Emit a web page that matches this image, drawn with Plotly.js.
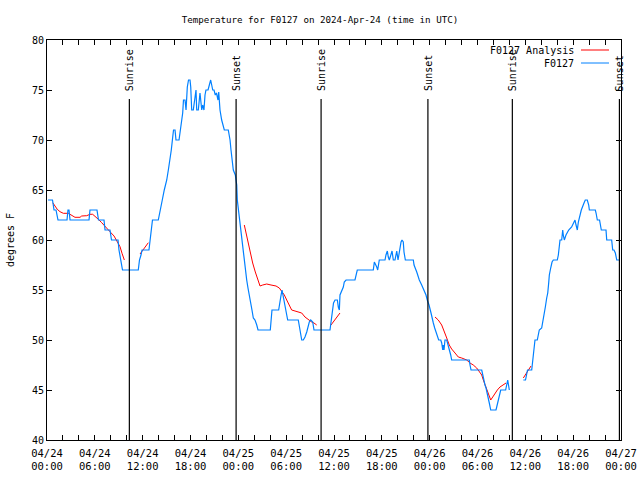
<!DOCTYPE html>
<html>
<head>
<meta charset="utf-8">
<script src="https://cdn.plot.ly/plotly-3.0.1.min.js"></script>
<style>html,body{margin:0;padding:0;background:#fff;}#chart{width:640px;height:480px;}</style>
</head>
<body>
<div id="chart"></div>
<script>
// hours since 2024-04-24 00:00 UTC
var blueHours = [0.13,0.69,0.88,1.13,1.38,2.51,2.63,2.76,2.89,5.27,5.39,6.27,6.46,7.15,7.28,7.90,8.09,8.91,9.03,9.22,9.47,11.45,
11.60,11.79,11.92,12.79,12.92,13.08,13.23,13.96,14.17,14.46,14.71,15.02,15.22,15.43,15.59,15.77,15.87,16.06,16.18,16.56,16.75,16.90,17.02,17.12,17.31,17.44,17.60,17.75,17.94,18.03,18.15,18.35,18.56,18.69,18.78,18.98,19.19,19.28,19.41,19.53,19.69,19.82,19.94,20.20,20.36,20.53,20.66,20.79,20.95,21.11,21.26,21.45,21.54,21.61,21.70,21.91,22.04,22.24,22.74,22.87,22.96,23.08,23.17,23.37,23.62,23.80,23.87,
24.02,24.12,24.27,24.46,24.62,24.84,25.05,25.21,25.38,25.55,25.71,25.88,26.09,26.31,26.47,28.01,28.10,28.22,29.06,29.16,29.32,29.48,29.64,29.85,29.98,30.19,31.52,31.65,31.82,31.95,32.15,32.36,32.58,32.78,32.90,33.08,33.33,33.49,35.50,35.66,35.79,35.94,36.13,36.42,36.54,36.67,36.75,36.97,37.17,37.29,37.51,38.63,38.76,38.92,40.93,41.06,41.36,41.48,41.68,42.40,42.52,42.69,42.81,42.94,43.28,43.44,43.65,43.87,44.03,44.15,44.28,44.41,44.53,44.69,44.78,44.95,45.95,46.04,46.38,46.70,47.00,47.29,47.54,47.70,47.92,48.17,48.29,48.46,48.63,48.80,48.96,49.13,49.39,49.51,49.64,49.71,49.80,49.92,50.14,50.26,50.46,50.64,50.76,52.97,53.06,53.19,54.53,54.60,54.73,54.94,55.07,55.23,55.36,55.48,55.66,56.32,56.41,56.53,56.66,56.82,56.91,57.53,57.66,57.79,57.89,57.99,
58.50,
59.75,60.02,60.15,60.27,60.80,60.88,61.00,61.09,61.21,61.50,61.63,61.75,62.05,62.18,62.25,62.38,62.51,62.68,62.81,62.93,63.01,63.18,63.35,63.51,64.01,64.14,64.26,64.35,64.56,64.69,64.76,64.89,65.10,65.44,65.81,66.02,66.23,66.36,66.52,66.65,66.86,67.02,67.36,67.52,67.77,67.95,68.03,68.78,68.87,69.03,69.31,69.45,69.53,70.12,70.21,70.83,70.96,71.12,71.29,71.47,71.88];
var blueTemps = [64,64,63,63,62,62,63,63,62,62,63,63,62,62,61,61,60,60,59,58,57,57,
58,58.5,59,59,60,61,62,62,63,64,65,66,67,68,69,70.3,71,71,70,70,71,72,72.7,74,74,73,75.3,76,76,75.3,73,73,74.3,75,73,73,74.7,74,73,73.5,73,74.5,75,75,75.5,76,75.5,75,75,74.5,74.7,74,74.8,74,73,72,71.5,71,71,70.5,70,69,68.5,67,66.5,65.5,64,
63,62,61,59.7,58.5,57.3,56,55.2,54.3,53.7,53,52.2,52,51.5,51,51,52,53,53,53.7,54.3,55,54.3,53.3,52.7,52,52,51.3,50.7,50,50,50.3,50.8,51.3,51.8,52,51.8,51,51,52,53,53.7,54,54,53.3,53,54.5,55,55.3,55.8,56,56,56.5,57,57,57.8,57.3,57,58,58,58.5,58.9,58.3,58,58.9,58,58,58.9,58,58.7,59.3,59.8,60,59.8,58.8,58,58,57.5,56.8,56,55.5,55,54.5,54,53.5,52.7,52.2,51.7,51.2,50.8,50.5,50,50,49.7,49,49.5,49,50,50,49.7,49,48.5,48,48,47.5,47,47,46.7,46,45.5,45.2,44.7,44.2,43.7,43,43,43.3,43.7,44,44.5,45,45,45.7,46,45.5,45,
null,
46,46,46.5,47,47,47.7,48.5,49.5,50,50,50.5,51,51.2,51.7,52.3,52.8,53.3,54.2,54.7,55.7,56.5,57.2,57.8,58,58,58.5,59.5,60,60,61,60.5,60,60.5,61,61.3,61.7,62,61.5,61,61.8,62.7,63,63.7,64,64,63.5,63,63,62.7,62,62,61.5,61,61,60,60,59,59,58.7,58,58];

var redHours = [0.72,1.00,1.29,1.63,2.05,2.68,3.10,3.51,4.14,4.35,4.98,5.39,5.73,6.02,6.44,6.86,7.28,7.90,8.41,8.82,9.16,9.41,9.70,
10.50,
11.67,12.08,12.71,
18.00,
24.75,24.96,25.18,25.46,25.80,26.13,26.43,26.72,27.06,27.56,28.10,28.73,29.14,29.48,29.77,30.07,30.39,30.69,31.11,31.65,31.95,32.36,32.78,33.20,33.49,33.83,
34.50,
35.62,36.19,36.75,
42.00,
48.67,49.08,49.51,49.80,50.14,50.46,50.76,51.18,51.59,52.02,52.65,53.06,53.47,53.90,54.32,54.53,54.73,55.07,55.36,55.66,55.91,56.21,56.49,56.82,57.24,57.58,
58.50,
59.75,60.15,60.71];
var redTemps = [63.73,63.4,63.07,62.83,62.67,62.67,62.43,62.27,62.27,62.4,62.43,62.57,62.57,62.4,62.07,61.73,61.33,60.83,60.4,59.83,59.33,58.67,58.0,
null,
58.6,59.0,59.73,
null,
61.5,60.7,59.8,58.7,57.7,56.8,56,55.4,55.5,55.6,55.5,55.4,55.2,54.8,54.5,54,53.5,53,52.9,52.8,52.7,52.3,52,51.8,51.7,51.5,
null,
51.5,52.1,52.7,
null,
52.3,52,51.5,50.8,50.2,49.5,49.1,48.7,48.3,48.2,48,47.7,47.5,47.2,46.8,46.5,46,45.3,44.7,44,44.3,44.7,45,45.3,45.5,45.7,
null,
46.2,46.7,47.4];

var sunriseHours = [10.33, 34.38, 58.37];
var sunsetHours = [23.72, 47.78, 71.80];
var xTickLabels = ['04/24<br>00:00','04/24<br>06:00','04/24<br>12:00','04/24<br>18:00',
  '04/25<br>00:00','04/25<br>06:00','04/25<br>12:00','04/25<br>18:00',
  '04/26<br>00:00','04/26<br>06:00','04/26<br>12:00','04/26<br>18:00','04/27<br>00:00'];
var seriesNames = ['F0127 Analysis', 'F0127'];
var seriesColors = ['#ff0000', '#0080ff'];

var FONT = 'DejaVu Sans Mono, monospace';
var tickvals = [], ticktext = [];
for (var h = 0; h <= 72; h += 2) {
  tickvals.push(h);
  ticktext.push(h % 6 === 0 ? xTickLabels[h / 6] : '');
}

var traces = [
  {x: redHours, y: redTemps, type: 'scatter', mode: 'lines', name: seriesNames[0],
   line: {color: seriesColors[0], width: 1}, connectgaps: false, hoverinfo: 'skip'},
  {x: blueHours, y: blueTemps, type: 'scatter', mode: 'lines', name: seriesNames[1],
   line: {color: seriesColors[1], width: 1.2}, connectgaps: false, hoverinfo: 'skip'}
];

var shapes = [], annotations = [];
function addEvent(h, label) {
  shapes.push({type: 'line', xref: 'x', yref: 'paper', x0: h, x1: h, y0: 0, y1: 0.8525,
    line: {color: '#000', width: 1.2}});
  annotations.push({x: h, xref: 'x', y: 0.87, yref: 'paper', text: label, textangle: -90,
    showarrow: false, xanchor: 'center', yanchor: 'bottom', borderpad: 0,
    font: {family: FONT, size: 10, color: '#000'}});
}
sunriseHours.forEach(function (h) { addEvent(h, 'Sunrise'); });
sunsetHours.forEach(function (h) { addEvent(h, 'Sunset'); });

// gnuplot-style legend (text left of sample)
var legY = [0.975, 0.9425];
for (var i = 0; i < 2; i++) {
  annotations.push({x: 0.92, xref: 'paper', y: legY[i], yref: 'paper', text: seriesNames[i],
    showarrow: false, xanchor: 'right', yanchor: 'middle', borderpad: 0,
    font: {family: FONT, size: 10, color: '#000'}});
  shapes.push({type: 'line', xref: 'paper', yref: 'paper', x0: 0.9303, x1: 0.9791, y0: legY[i], y1: legY[i],
    line: {color: seriesColors[i], width: 1}});
}

var layout = {
  width: 640, height: 480,
  margin: {l: 47, r: 19, t: 40, b: 40, pad: 0},
  paper_bgcolor: '#fff', plot_bgcolor: '#fff',
  showlegend: false,
  font: {family: FONT, size: 10, color: '#000'},
  title: {text: 'Temperature for F0127 on 2024-Apr-24 (time in UTC)', x: 0.5, xref: 'container',
    y: 0.958, yref: 'container', yanchor: 'middle', font: {family: FONT, size: 9.2, color: '#000'}},
  xaxis: {range: [0, 72], tickmode: 'array', tickvals: tickvals, ticktext: ticktext,
    ticks: 'inside', ticklen: 5, tickcolor: '#000', tickwidth: 1,
    showline: true, linecolor: '#000', linewidth: 1, mirror: 'ticks',
    showgrid: false, zeroline: false, tickangle: 0, ticklabelstandoff: 3,
    tickfont: {family: FONT, size: 10.5, color: '#000'}},
  yaxis: {range: [40, 80], dtick: 5, tick0: 40,
    ticks: 'inside', ticklen: 5, tickcolor: '#000', tickwidth: 1,
    showline: true, linecolor: '#000', linewidth: 1, mirror: 'ticks',
    showgrid: false, zeroline: false,
    tickfont: {family: FONT, size: 10, color: '#000'},
    title: {text: 'degrees F', standoff: 15, font: {family: FONT, size: 10, color: '#000'}}},
  shapes: shapes,
  annotations: annotations
};

Plotly.newPlot('chart', traces, layout, {staticPlot: true, displayModeBar: false});
</script>
</body>
</html>
